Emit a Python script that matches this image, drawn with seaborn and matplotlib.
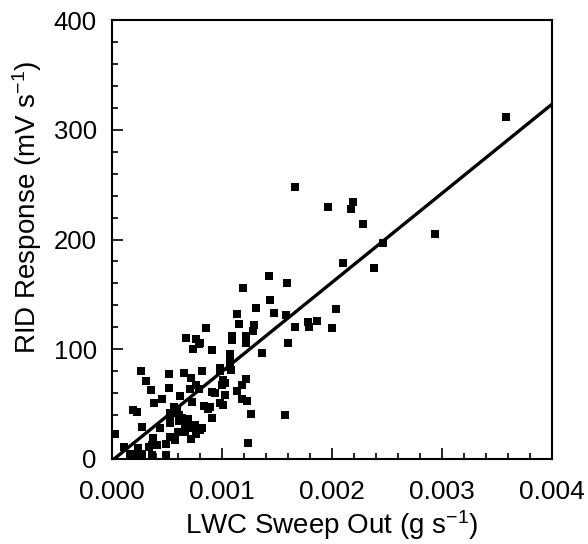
import numpy as np
import pandas as pd
import matplotlib
matplotlib.use("Agg")
import matplotlib.pyplot as plt
from matplotlib.ticker import MultipleLocator, FormatStrFormatter
import seaborn as sns

# LWC sweep out (g s^-1)
lwc = [0.00358, 0.00294, 0.00166, 0.00196, 0.00219, 0.00217, 0.00228, 0.00246, 0.00210, 0.00238,
       0.00143, 0.00119, 0.00159, 0.00144, 0.00131, 0.00204, 0.00114, 0.00147, 0.00158, 0.00115,
       0.00129, 0.00128, 0.00085, 0.00166, 0.00178, 0.00179, 0.00186, 0.00200, 0.00109, 0.00109,
       0.00122, 0.00122, 0.00160, 0.00080, 0.00091, 0.00136, 0.00107, 0.00107, 0.00107, 0.00108,
       0.00098, 0.00098, 0.00101, 0.00122, 0.00118, 0.00100, 0.00103, 0.00114, 0.00091, 0.00094,
       0.00103, 0.00118, 0.00123, 0.00098, 0.00101, 0.00089, 0.00091, 0.00126, 0.00157, 0.00124,
       0.00067, 0.00076, 0.00079, 0.00074, 0.00026, 0.00031, 0.00035, 0.00052, 0.00052, 0.00065,
       0.00072, 0.00071, 0.00082, 0.00079, 0.00076, 0.00038, 0.00045, 0.00062, 0.00073, 0.00084,
       0.00087, 0.00019, 0.00023, 0.00027, 0.00003, 0.00011, 0.00016, 0.00024, 0.00022, 0.00027,
       0.00036, 0.00036, 0.00037, 0.00034, 0.00041, 0.00044, 0.00049, 0.00049, 0.00053, 0.00053,
       0.00059, 0.00053, 0.00060, 0.00057, 0.00066, 0.00069, 0.00066, 0.00073, 0.00076, 0.00072,
       0.00082, 0.00061, 0.00053, 0.00056, 0.00059, 0.00061, 0.00064, 0.00066, 0.00069, 0.00075,
       0.00080]

# RID response (mV s^-1)
rid = [312, 205, 248, 230, 234, 228, 214, 197, 179, 174,
       167, 156, 160, 145, 138, 137, 132, 133, 131, 123,
       122, 117, 119, 120, 125, 120, 126, 119, 112, 108,
       112, 106, 106, 106, 99, 97, 96, 90, 84, 81,
       83, 80, 72, 73, 67, 67, 69, 62, 61, 60,
       58, 55, 53, 51, 49, 47, 37, 41, 40, 15,
       110, 109, 105, 100, 80, 71, 63, 77, 65, 78,
       74, 64, 80, 64, 67, 51, 55, 57, 52, 48,
       46, 45, 43, 29, 23, 11, 5, 10, 4, 5,
       4, 13, 19, 11, 13, 28, 14, 4, 33, 42,
       42, 20, 25, 17, 29, 36, 25, 29, 23, 18,
       28, 35, 37, 47, 45, 40, 37, 33, 28, 31,
       26]

# Linear fit shown on the chart
fit_slope = 81200.0
fit_intercept = -1.5
fit_x = [0.0, 0.004]

x_ticks = [0.000, 0.001, 0.002, 0.003, 0.004]
y_ticks = [0, 100, 200, 300, 400]

sns.set_style("ticks")
plt.rcParams["font.family"] = ["Liberation Sans", "DejaVu Sans"]
plt.rcParams["mathtext.fontset"] = "custom"
plt.rcParams["mathtext.rm"] = "Liberation Sans"
plt.rcParams["mathtext.it"] = "Liberation Sans"
plt.rcParams["text.color"] = "black"
plt.rcParams["axes.labelcolor"] = "black"

fig = plt.figure(figsize=(5.88, 5.44), dpi=100)
ax = fig.add_axes([112 / 588, 1 - 459 / 544, 440 / 588, 439 / 544])

df = pd.DataFrame({"lwc": lwc, "rid": rid})
sns.scatterplot(data=df, x="lwc", y="rid", marker="s", color="black",
                s=30, linewidth=0, ax=ax, zorder=3)

fit_df = pd.DataFrame({"x": fit_x, "y": [fit_slope * v + fit_intercept for v in fit_x]})
sns.lineplot(data=fit_df, x="x", y="y", color="black", linewidth=2.4, ax=ax, zorder=4)

ax.set_xlim(0, 0.004)
ax.set_ylim(0, 400)
ax.set_xticks(x_ticks)
ax.set_yticks(y_ticks)
ax.xaxis.set_major_formatter(FormatStrFormatter("%.3f"))
ax.xaxis.set_minor_locator(MultipleLocator(0.0002))
ax.yaxis.set_minor_locator(MultipleLocator(20))

ax.tick_params(which="both", direction="in", top=False, right=False,
               colors="black", labelcolor="black", width=1.2)
ax.tick_params(which="major", length=8)
ax.tick_params(which="minor", length=4)
ax.tick_params(axis="x", which="major", labelsize=19, pad=15)
ax.tick_params(axis="y", which="major", labelsize=18.5, pad=11)
for sp in ax.spines.values():
    sp.set_visible(True)
    sp.set_linewidth(1.5)
    sp.set_color("black")

ax.set_xlabel(r"LWC Sweep Out (g s$^{-1}$)", fontsize=20, labelpad=3, color="black")
ax.set_ylabel(r"RID Response (mV s$^{-1}$)", fontsize=20, color="black")
ax.yaxis.set_label_coords(-0.155, 0.574)

fig.savefig("out.png", dpi=100)
